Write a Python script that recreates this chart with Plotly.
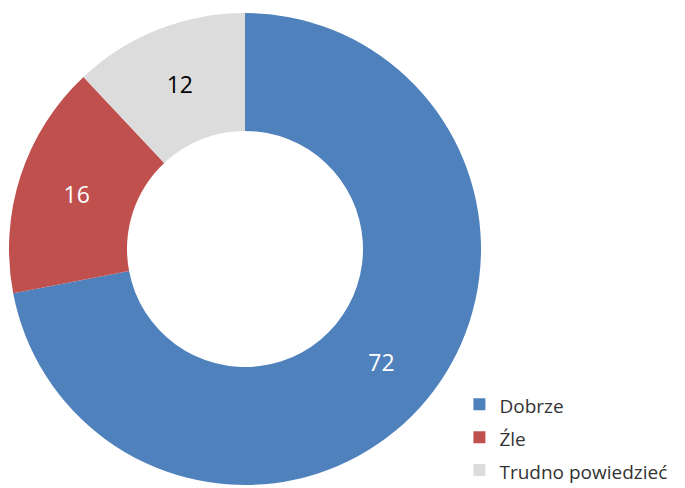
import plotly.graph_objects as go

labels = ["Dobrze", "Źle", "Trudno powiedzieć"]
values = [72, 16, 12]
colors = ["#4F81BD", "#C0504D", "#DCDCDC"]
text_colors = ["white", "white", "black"]

legend_labels = ['<span style="font-size:19px">%s</span>' % s for s in labels]

fig = go.Figure(go.Pie(
    labels=legend_labels,
    values=values,
    hole=0.5,
    sort=False,
    direction="clockwise",
    rotation=0,
    marker=dict(colors=colors, line=dict(width=0)),
    textinfo="value",
    textposition="inside",
    insidetextorientation="horizontal",
    textfont=dict(family="Open Sans, Liberation Sans, sans-serif", size=23, color=text_colors),
    domain=dict(x=[0/685, 474/685], y=[1-477/488, 1-5/488]),
))

fig.update_layout(
    width=685, height=488,
    margin=dict(l=0, r=0, t=0, b=0, autoexpand=False),
    paper_bgcolor="white",
    plot_bgcolor="white",
    showlegend=True,
    legend=dict(
        x=0.659, y=0.232, xanchor="left", yanchor="top",
        font=dict(family="Open Sans, Liberation Sans, sans-serif", size=23, color="#333333"),
        bgcolor="rgba(0,0,0,0)",
    ),
)

fig.write_html("out.html")
